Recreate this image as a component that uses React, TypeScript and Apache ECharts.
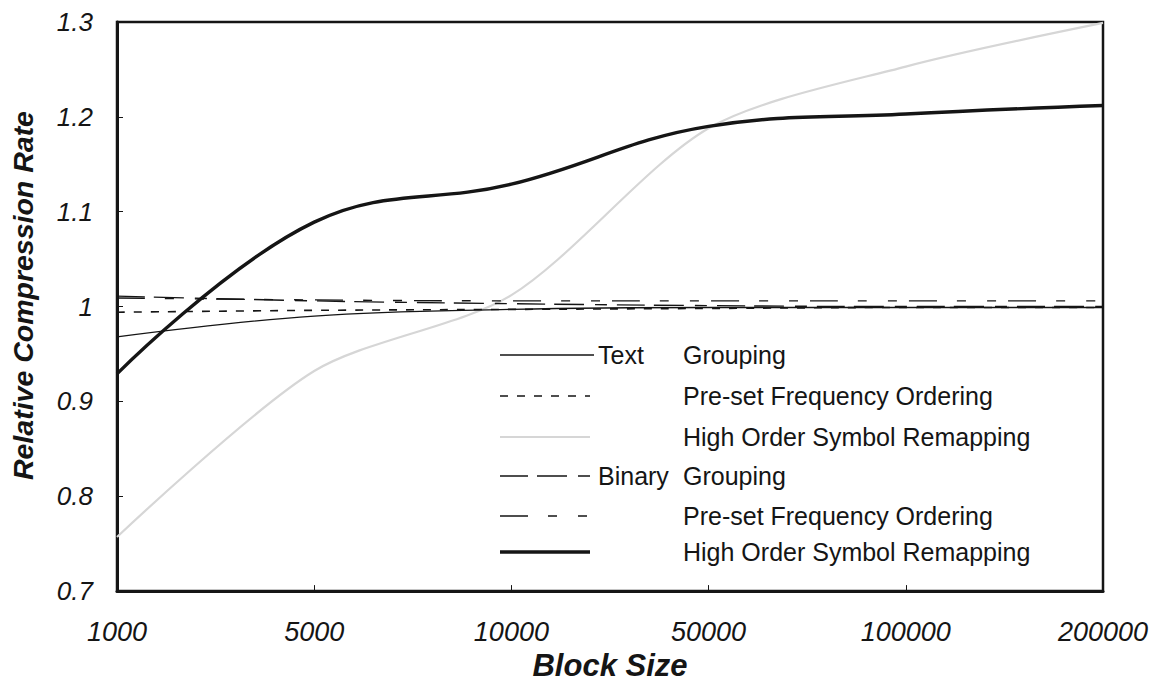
import React, { useEffect, useRef } from "react";
import * as echarts from "echarts";

const blockSizes = ["1000", "5000", "10000", "50000", "100000", "200000"];

const textGrouping = [0.968, 0.99, 0.997, 0.999, 0.999, 0.999];
const textPreset = [0.994, 0.996, 0.997, 0.998, 0.999, 0.999];
const textHighOrder = [0.757, 0.932, 1.012, 1.188, 1.253, 1.299];
const binaryGrouping = [1.011, 1.006, 1.003, 1.001, 1.0, 1.0];
const binaryPreset = [1.009, 1.007, 1.006, 1.006, 1.006, 1.006];
const binaryHighOrder = [0.929, 1.089, 1.129, 1.19, 1.203, 1.212];

const legendRows = [
  { group: "Text", name: "Grouping" },
  { group: "", name: "Pre-set Frequency Ordering" },
  { group: "", name: "High Order Symbol Remapping" },
  { group: "Binary", name: "Grouping" },
  { group: "", name: "Pre-set Frequency Ordering" },
  { group: "", name: "High Order Symbol Remapping" },
];

const FONT = "'Liberation Sans', Arial, sans-serif";
const INK = "#151515";

export default function App() {
  const ref = useRef<HTMLDivElement>(null);

  useEffect(() => {
    document.body.style.margin = "0";
    if (!ref.current) return;
    const chart = echarts.init(ref.current, null, { renderer: "svg" });

    const styles = [
      { color: INK, width: 1.3, type: "solid" as any },
      { color: INK, width: 1.6, type: [8, 9] as any },
      { color: "#d6d6d6", width: 2.2, type: "solid" as any },
      { color: INK, width: 1.4, type: [28, 9, 30, 11, 12, 10] as any },
      { color: INK, width: 1.4, type: [28, 20, 9, 21, 9, 12] as any },
      { color: INK, width: 3.4, type: "solid" as any },
    ];
    const smoothness = [0.4, 0.4, 0.28, 0.4, 0.4, 0.4];
    const datasets = [textGrouping, textPreset, textHighOrder, binaryGrouping, binaryPreset, binaryHighOrder];
    const names = [
      "Text Grouping",
      "Text Pre-set Frequency Ordering",
      "Text High Order Symbol Remapping",
      "Binary Grouping",
      "Binary Pre-set Frequency Ordering",
      "Binary High Order Symbol Remapping",
    ];
    const drawOrder = [2, 0, 1, 3, 4, 5];

    const series = drawOrder.map((i, k) => ({
      name: names[i],
      type: "line",
      data: datasets[i],
      smooth: smoothness[i],
      showSymbol: false,
      symbol: "none",
      z: 2 + k,
      lineStyle: { ...styles[i], cap: "butt" },
    }));

    const rowY = [355, 396, 437, 476, 516, 552];
    const graphics: any[] = [];
    legendRows.forEach((r, i) => {
      const y = rowY[i];
      const st = styles[i];
      graphics.push({
        type: "line",
        shape: { x1: 500, y1: y, x2: i === 0 ? 594 : 590, y2: y },
        style: {
          stroke: st.color,
          lineWidth: st.width,
          lineDash: Array.isArray(st.type) ? st.type : null,
        },
        z: 10,
      });
      if (r.group) {
        graphics.push({
          type: "text",
          x: 598,
          y,
          style: { text: r.group, font: `25px ${FONT}`, fill: INK, verticalAlign: "middle", align: "left" },
          z: 10,
        });
      }
      graphics.push({
        type: "text",
        x: 683,
        y,
        style: { text: r.name, font: `25px ${FONT}`, fill: INK, verticalAlign: "middle", align: "left" },
        z: 10,
      });
    });

    chart.setOption({
      animation: false,
      backgroundColor: "#ffffff",
      grid: {
        left: 116,
        right: 51,
        top: 22,
        bottom: 93,
        show: true,
        borderColor: INK,
        borderWidth: 2.5,
        backgroundColor: "transparent",
      },
      xAxis: {
        type: "category",
        data: blockSizes,
        boundaryGap: false,
        name: "Block Size",
        nameLocation: "middle",
        nameGap: 55,
        nameTextStyle: { fontFamily: FONT, fontSize: 31, fontWeight: "bold", fontStyle: "italic", color: INK },
        axisLine: { lineStyle: { color: INK, width: 3 } },
        axisTick: { inside: true, length: 6, lineStyle: { color: INK, width: 1 } },
        axisLabel: { fontFamily: FONT, fontSize: 27, fontStyle: "italic", color: INK, margin: 27 },
        splitLine: { show: false },
      },
      yAxis: {
        type: "value",
        min: 0.7,
        max: 1.3,
        interval: 0.1,
        name: "Relative Compression Rate",
        nameLocation: "middle",
        nameGap: 80,
        nameTextStyle: {
          fontFamily: FONT,
          fontSize: 28.5,
          fontWeight: "bold",
          fontStyle: "italic",
          color: INK,
          padding: [0, 0, 0, 22],
        },
        axisLine: { show: true, lineStyle: { color: INK, width: 3 } },
        axisTick: { show: true, inside: true, length: 6, lineStyle: { color: INK, width: 1 } },
        axisLabel: {
          fontFamily: FONT,
          fontSize: 26,
          fontStyle: "italic",
          color: INK,
          margin: 24,
          formatter: (v: number) => String(Math.round(v * 10) / 10),
        },
        splitLine: { show: false },
      },
      series,
      graphic: graphics,
    });

    return () => chart.dispose();
  }, []);

  return <div ref={ref} style={{ width: 1154, height: 686 }} />;
}
